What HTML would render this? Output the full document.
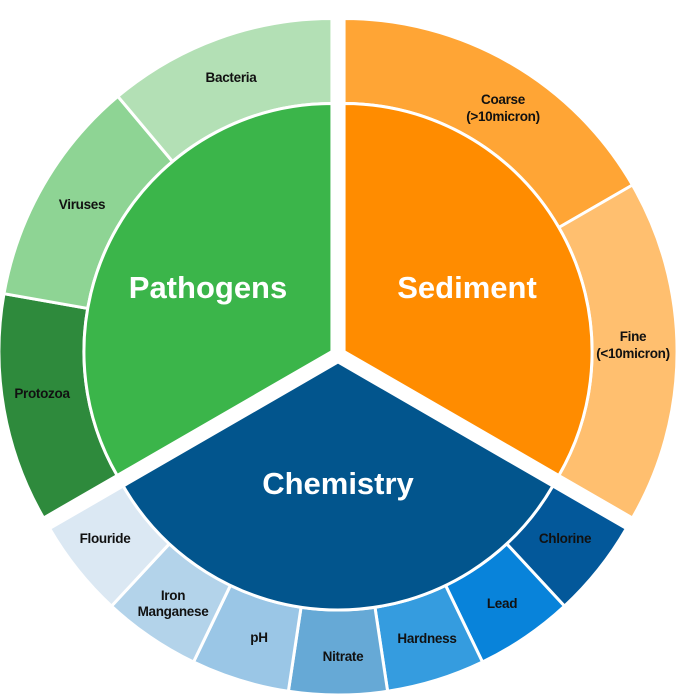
<!DOCTYPE html>
<html><head><meta charset="utf-8"><style>
html,body{margin:0;padding:0;background:#fff;}
svg{display:block}
.s{font-family:"Liberation Sans",sans-serif;font-size:13.5px;font-weight:bold;fill:#111;text-anchor:middle;letter-spacing:-0.3px}
.b{font-family:"Liberation Sans",sans-serif;font-size:31px;font-weight:bold;fill:#fff;text-anchor:middle}
</style></head><body>
<svg id="c" width="677" height="694" viewBox="0 0 677 694">
<g id="p"></g>
<text class="b" x="208" y="298">Pathogens</text>
<text class="b" x="467" y="298">Sediment</text>
<text class="b" x="338" y="494">Chemistry</text>
<text class="s" x="231" y="82">Bacteria</text>
<text class="s" x="503" y="104">Coarse</text>
<text class="s" x="503" y="121">(&gt;10micron)</text>
<text class="s" x="633" y="341">Fine</text>
<text class="s" x="633" y="358">(&lt;10micron)</text>
<text class="s" x="82" y="209">Viruses</text>
<text class="s" x="42" y="398">Protozoa</text>
<text class="s" x="105" y="543">Flouride</text>
<text class="s" x="173" y="600">Iron</text>
<text class="s" x="173" y="616">Manganese</text>
<text class="s" x="259" y="642">pH</text>
<text class="s" x="343" y="661">Nitrate</text>
<text class="s" x="427" y="643">Hardness</text>
<text class="s" x="502" y="608">Lead</text>
<text class="s" x="565" y="543">Chlorine</text>
</svg>
<script>
var cx=338,cy=355,d=7,R1=248,R2=333;
function pt(x,y,r,a){a=a*Math.PI/180;return [x+r*Math.sin(a),y-r*Math.cos(a)];}
function sector(x,y,r0,r1,a0,a1,fill){
 var p1=pt(x,y,r1,a0),p2=pt(x,y,r1,a1),lg=(a1-a0)>180?1:0,s;
 if(r0==0){s="M"+x+","+y+"L"+p1+"A"+r1+","+r1+" 0 "+lg+" 1 "+p2+"Z";}
 else{var p3=pt(x,y,r0,a1),p4=pt(x,y,r0,a0);
 s="M"+p1+"A"+r1+","+r1+" 0 "+lg+" 1 "+p2+"L"+p3+"A"+r0+","+r0+" 0 "+lg+" 0 "+p4+"Z";}
 return '<path d="'+s+'" fill="'+fill+'" stroke="#fff" stroke-width="3" stroke-linejoin="round"/>';
}
var h="";
function grp(a0,a1,col,subs){
 var m=(a0+a1)/2,o=pt(cx,cy,d,m),x=o[0],y=o[1];
 var n=subs.length;
 for(var i=0;i<n;i++){h+=sector(x,y,R1,R2,subs[i][0],subs[i][1],subs[i][2]);}
 h+=sector(x,y,0,R1,a0,a1,col);
}
grp(0,120,"#FF8C00",[[0,60,"#FFA535"],[60,120,"#FFBF6F"]]);
grp(240,360,"#3BB54A",[[240,280,"#2E8A3C"],[280,320,"#8ED494"],[320,360,"#B3E0B5"]]);
var cc=["#03589A","#0883DA","#359CDF","#66A9D6","#9AC6E6","#B3D3EA","#DBE8F3"],cs=[];
for(var i=0;i<7;i++)cs.push([120+i*120/7,120+(i+1)*120/7,cc[i]]);
grp(120,240,"#02558D",cs);
document.getElementById("p").innerHTML=h;
</script>
</body></html>
